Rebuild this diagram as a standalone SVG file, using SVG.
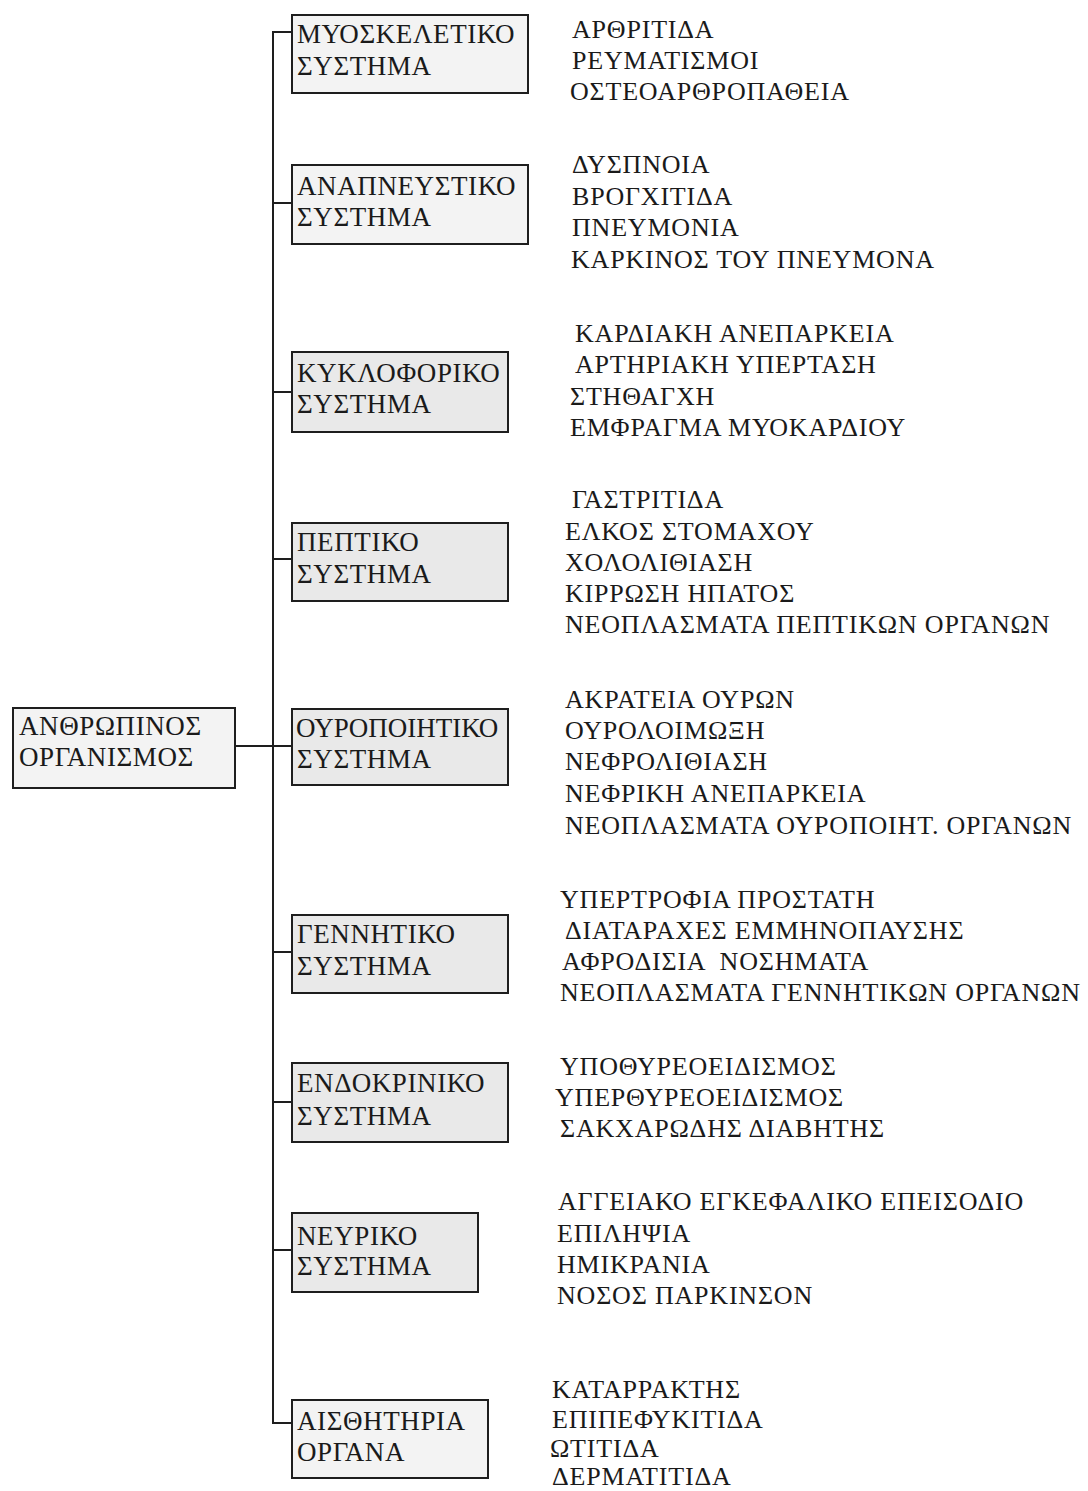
<svg xmlns="http://www.w3.org/2000/svg" width="1088" height="1491" viewBox="0 0 1088 1491">
<style>
.bg{fill:#ffffff}
.box{stroke:#1e1e1e;stroke-width:2;fill:#f3f3f3}
.box.d{fill:#e9e9e9}
.bt{font-family:"Liberation Serif","Times New Roman",serif;font-size:27px;letter-spacing:0.6px;fill:#1a1a1a}
.lt{font-family:"Liberation Serif","Times New Roman",serif;font-size:26px;letter-spacing:0.8px;fill:#1a1a1a}
.conn{stroke:#1e1e1e;stroke-width:2;fill:none}
</style>
<rect class="bg" x="0" y="0" width="1088" height="1491"/>
<g id="connectors">
<path class="conn" d="M292 32 H273 V1423 H292"/>
<path class="conn" d="M235 746 H292"/>
<path class="conn" d="M273 203 H292"/>
<path class="conn" d="M273 392 H292"/>
<path class="conn" d="M273 559 H292"/>
<path class="conn" d="M273 952 H292"/>
<path class="conn" d="M273 1102 H292"/>
<path class="conn" d="M273 1250 H292"/>
</g>
<g id="root">
<rect class="box" x="13" y="708" width="222" height="80"/>
<text class="bt" x="19" y="735">ΑΝΘΡΩΠΙΝΟΣ</text>
<text class="bt" x="19" y="766">ΟΡΓΑΝΙΣΜΟΣ</text>
</g>
<g id="n1">
<rect class="box" x="292" y="15" width="236" height="78"/>
<text class="bt" x="297" y="43">ΜΥΟΣΚΕΛΕΤΙΚΟ</text>
<text class="bt" x="297" y="75">ΣΥΣΤΗΜΑ</text>
</g>
<g id="n2">
<rect class="box" x="292" y="165" width="236" height="79"/>
<text class="bt" x="297" y="195">ΑΝΑΠΝΕΥΣΤΙΚΟ</text>
<text class="bt" x="297" y="226">ΣΥΣΤΗΜΑ</text>
</g>
<g id="n3">
<rect class="box d" x="292" y="352" width="216" height="80"/>
<text class="bt" x="297" y="382">ΚΥΚΛΟΦΟΡΙΚΟ</text>
<text class="bt" x="297" y="413">ΣΥΣΤΗΜΑ</text>
</g>
<g id="n4">
<rect class="box d" x="292" y="523" width="216" height="78"/>
<text class="bt" x="297" y="551">ΠΕΠΤΙΚΟ</text>
<text class="bt" x="297" y="583">ΣΥΣΤΗΜΑ</text>
</g>
<g id="n5">
<rect class="box d" x="292" y="709" width="216" height="76"/>
<text class="bt" x="296" y="737" style="letter-spacing:0">ΟΥΡΟΠΟΙΗΤΙΚΟ</text>
<text class="bt" x="297" y="768">ΣΥΣΤΗΜΑ</text>
</g>
<g id="n6">
<rect class="box d" x="292" y="915" width="216" height="78"/>
<text class="bt" x="297" y="943">ΓΕΝΝΗΤΙΚΟ</text>
<text class="bt" x="297" y="975">ΣΥΣΤΗΜΑ</text>
</g>
<g id="n7">
<rect class="box d" x="292" y="1063" width="216" height="79"/>
<text class="bt" x="297" y="1092">ΕΝΔΟΚΡΙΝΙΚΟ</text>
<text class="bt" x="297" y="1125">ΣΥΣΤΗΜΑ</text>
</g>
<g id="n8">
<rect class="box d" x="292" y="1213" width="186" height="79"/>
<text class="bt" x="297" y="1245">ΝΕΥΡΙΚΟ</text>
<text class="bt" x="297" y="1275">ΣΥΣΤΗΜΑ</text>
</g>
<g id="n9">
<rect class="box" x="292" y="1400" width="196" height="78"/>
<text class="bt" x="297" y="1430">ΑΙΣΘΗΤΗΡΙΑ</text>
<text class="bt" x="297" y="1461">ΟΡΓΑΝΑ</text>
</g>
<g id="list1">
<text class="lt" x="572" y="38">ΑΡΘΡΙΤΙΔΑ</text>
<text class="lt" x="572" y="69">ΡΕΥΜΑΤΙΣΜΟΙ</text>
<text class="lt" x="570" y="100">ΟΣΤΕΟΑΡΘΡΟΠΑΘΕΙΑ</text>
</g>
<g id="list2">
<text class="lt" x="572" y="173">ΔΥΣΠΝΟΙΑ</text>
<text class="lt" x="572" y="205">ΒΡΟΓΧΙΤΙΔΑ</text>
<text class="lt" x="572" y="236">ΠΝΕΥΜΟΝΙΑ</text>
<text class="lt" x="571" y="268">ΚΑΡΚΙΝΟΣ ΤΟΥ ΠΝΕΥΜΟΝΑ</text>
</g>
<g id="list3">
<text class="lt" x="575" y="342">ΚΑΡΔΙΑΚΗ ΑΝΕΠΑΡΚΕΙΑ</text>
<text class="lt" x="575" y="373">ΑΡΤΗΡΙΑΚΗ ΥΠΕΡΤΑΣΗ</text>
<text class="lt" x="570" y="405">ΣΤΗΘΑΓΧΗ</text>
<text class="lt" x="570" y="436">ΕΜΦΡΑΓΜΑ ΜΥΟΚΑΡΔΙΟΥ</text>
</g>
<g id="list4">
<text class="lt" x="572" y="508">ΓΑΣΤΡΙΤΙΔΑ</text>
<text class="lt" x="565" y="540">ΕΛΚΟΣ ΣΤΟΜΑΧΟΥ</text>
<text class="lt" x="565" y="571">ΧΟΛΟΛΙΘΙΑΣΗ</text>
<text class="lt" x="565" y="602">ΚΙΡΡΩΣΗ ΗΠΑΤΟΣ</text>
<text class="lt" x="565" y="633">ΝΕΟΠΛΑΣΜΑΤΑ ΠΕΠΤΙΚΩΝ ΟΡΓΑΝΩΝ</text>
</g>
<g id="list5">
<text class="lt" x="565" y="708">ΑΚΡΑΤΕΙΑ ΟΥΡΩΝ</text>
<text class="lt" x="565" y="739">ΟΥΡΟΛΟΙΜΩΞΗ</text>
<text class="lt" x="565" y="770">ΝΕΦΡΟΛΙΘΙΑΣΗ</text>
<text class="lt" x="565" y="802">ΝΕΦΡΙΚΗ ΑΝΕΠΑΡΚΕΙΑ</text>
<text class="lt" x="565" y="834">ΝΕΟΠΛΑΣΜΑΤΑ ΟΥΡΟΠΟΙΗΤ. ΟΡΓΑΝΩΝ</text>
</g>
<g id="list6">
<text class="lt" x="560" y="908">ΥΠΕΡΤΡΟΦΙΑ ΠΡΟΣΤΑΤΗ</text>
<text class="lt" x="565" y="939">ΔΙΑΤΑΡΑΧΕΣ ΕΜΜΗΝΟΠΑΥΣΗΣ</text>
<text class="lt" x="562" y="970" xml:space="preserve">ΑΦΡΟΔΙΣΙΑ  ΝΟΣΗΜΑΤΑ</text>
<text class="lt" x="560" y="1001">ΝΕΟΠΛΑΣΜΑΤΑ ΓΕΝΝΗΤΙΚΩΝ ΟΡΓΑΝΩΝ</text>
</g>
<g id="list7">
<text class="lt" x="560" y="1075">ΥΠΟΘΥΡΕΟΕΙΔΙΣΜΟΣ</text>
<text class="lt" x="555" y="1106">ΥΠΕΡΘΥΡΕΟΕΙΔΙΣΜΟΣ</text>
<text class="lt" x="560" y="1137">ΣΑΚΧΑΡΩΔΗΣ ΔΙΑΒΗΤΗΣ</text>
</g>
<g id="list8">
<text class="lt" x="558" y="1210">ΑΓΓΕΙΑΚΟ ΕΓΚΕΦΑΛΙΚΟ ΕΠΕΙΣΟΔΙΟ</text>
<text class="lt" x="557" y="1242">ΕΠΙΛΗΨΙΑ</text>
<text class="lt" x="557" y="1273">ΗΜΙΚΡΑΝΙΑ</text>
<text class="lt" x="557" y="1304">ΝΟΣΟΣ ΠΑΡΚΙΝΣΟΝ</text>
</g>
<g id="list9">
<text class="lt" x="552" y="1398">ΚΑΤΑΡΡΑΚΤΗΣ</text>
<text class="lt" x="552" y="1428">ΕΠΙΠΕΦΥΚΙΤΙΔΑ</text>
<text class="lt" x="550" y="1457">ΩΤΙΤΙΔΑ</text>
<text class="lt" x="552" y="1485">ΔΕΡΜΑΤΙΤΙΔΑ</text>
</g>
</svg>
